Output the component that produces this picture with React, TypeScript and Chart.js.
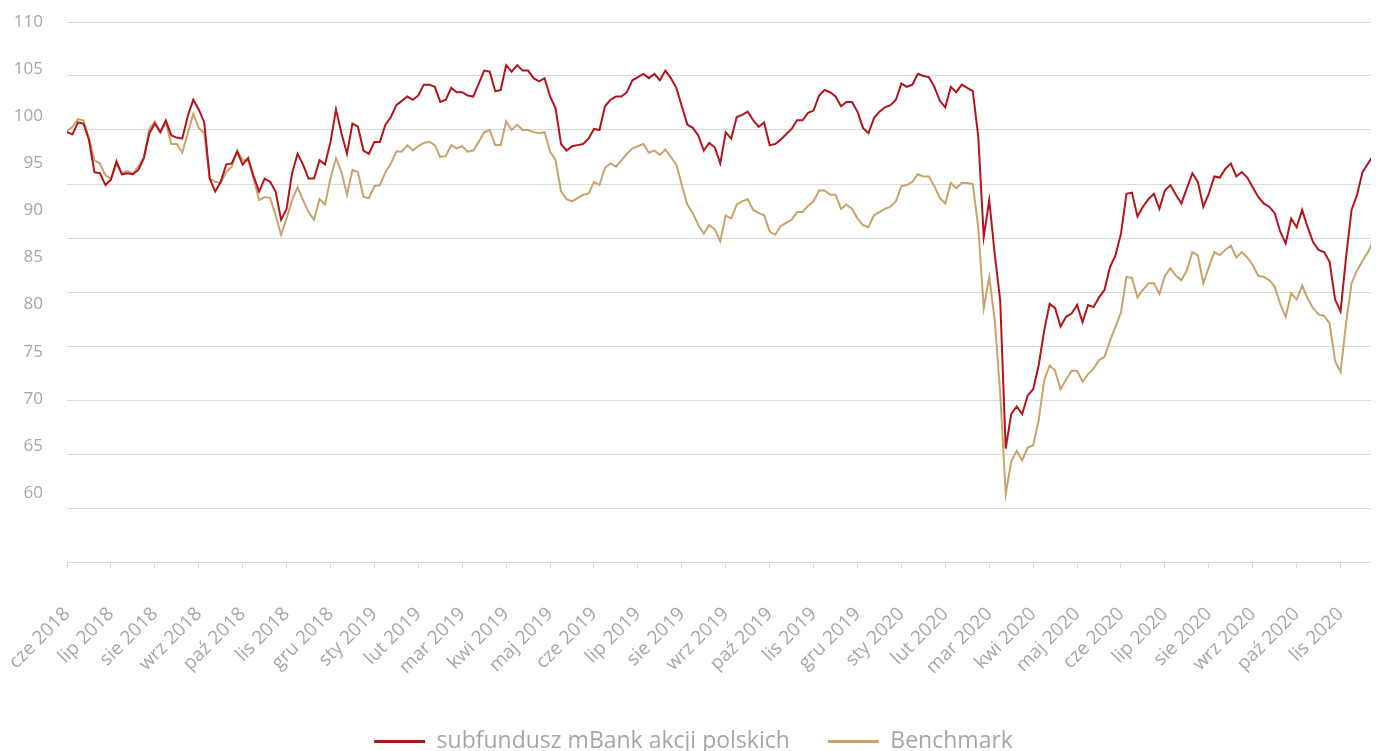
import React, { useEffect, useRef } from 'react';
import { Chart, registerables } from 'chart.js';

Chart.register(...registerables);

const monthLabels = [
  'cze 2018', 'lip 2018', 'sie 2018', 'wrz 2018', 'paź 2018', 'lis 2018', 'gru 2018',
  'sty 2019', 'lut 2019', 'mar 2019', 'kwi 2019', 'maj 2019', 'cze 2019', 'lip 2019',
  'sie 2019', 'wrz 2019', 'paź 2019', 'lis 2019', 'gru 2019',
  'sty 2020', 'lut 2020', 'mar 2020', 'kwi 2020', 'maj 2020', 'cze 2020', 'lip 2020',
  'sie 2020', 'wrz 2020', 'paź 2020', 'lis 2020',
];

const yTickLabels = [60, 65, 70, 75, 80, 85, 90, 95, 100, 105, 110];

// values sampled 8 times per month, starting 1 June 2018
const SAMPLES_PER_MONTH = 8;

const fundValues = [
  99.8, 99.6, 100.7, 100.6, 99.1, 96.1, 96.0, 94.9, 95.4, 97.1,
  95.9, 96.0, 95.9, 96.3, 97.4, 99.7, 100.6, 99.8, 100.9, 99.5,
  99.3, 99.2, 101.3, 102.8, 101.9, 100.7, 95.5, 94.3, 95.2, 96.8,
  96.9, 98.0, 96.8, 97.4, 95.7, 94.3, 95.5, 95.2, 94.3, 91.7,
  92.7, 96.0, 97.8, 96.8, 95.5, 95.5, 97.2, 96.8, 98.9, 101.9,
  99.7, 97.8, 100.6, 100.3, 98.1, 97.8, 98.9, 98.9, 100.5, 101.2,
  102.3, 102.7, 103.1, 102.8, 103.2, 104.2, 104.2, 104.0, 102.6, 102.8,
  103.9, 103.5, 103.5, 103.2, 103.1, 104.3, 105.5, 105.4, 103.6, 103.7,
  106.0, 105.4, 106.0, 105.5, 105.5, 104.8, 104.5, 104.8, 103.1, 102.0,
  98.7, 98.1, 98.5, 98.6, 98.7, 99.2, 100.1, 100.0, 102.2, 102.8,
  103.1, 103.1, 103.5, 104.6, 104.9, 105.2, 104.8, 105.2, 104.6, 105.5,
  104.8, 103.9, 102.2, 100.5, 100.2, 99.5, 98.1, 98.8, 98.4, 96.9,
  99.8, 99.2, 101.2, 101.4, 101.7, 100.9, 100.3, 100.7, 98.6, 98.7,
  99.1, 99.6, 100.1, 100.9, 100.9, 101.6, 101.8, 103.2, 103.7, 103.5,
  103.1, 102.2, 102.6, 102.6, 101.7, 100.2, 99.7, 101.1, 101.7, 102.1,
  102.3, 102.8, 104.3, 104.0, 104.2, 105.2, 105.0, 104.9, 104.0, 102.7,
  102.1, 104.0, 103.5, 104.2, 103.9, 103.6, 99.4, 90.1, 93.5, 88.5,
  84.2, 70.5, 73.7, 74.4, 73.7, 75.4, 76.0, 78.2, 81.4, 83.9,
  83.5, 81.8, 82.7, 83.0, 83.8, 82.2, 83.8, 83.6, 84.5, 85.2,
  87.3, 88.4, 90.4, 94.1, 94.2, 92.0, 92.9, 93.6, 94.1, 92.7,
  94.4, 94.9, 94.0, 93.2, 94.6, 96.0, 95.2, 92.9, 94.1, 95.7,
  95.6, 96.4, 96.9, 95.7, 96.1, 95.6, 94.7, 93.8, 93.2, 92.9,
  92.3, 90.6, 89.5, 91.8, 91.0, 92.6, 91.0, 89.6, 88.9, 88.7,
  87.8, 84.3, 83.2, 88.2, 92.6, 94.0, 96.1, 96.9, 97.7, 98.2,
];

const benchValues = [
  99.9, 100.3, 101.0, 100.9, 99.2, 97.2, 96.9, 95.8, 95.5, 96.8,
  96.0, 96.2, 96.0, 96.6, 97.5, 100.1, 100.8, 99.8, 100.7, 98.7,
  98.7, 97.9, 99.7, 101.5, 100.2, 99.7, 95.5, 95.2, 95.1, 96.1,
  96.6, 98.1, 97.2, 97.2, 95.5, 93.5, 93.8, 93.7, 92.1, 90.3,
  91.8, 93.5, 94.7, 93.5, 92.4, 91.7, 93.6, 93.1, 95.5, 97.4,
  96.1, 94.0, 96.3, 96.1, 93.8, 93.7, 94.8, 94.9, 96.1, 96.9,
  98.0, 98.0, 98.6, 98.1, 98.5, 98.8, 98.9, 98.6, 97.5, 97.6,
  98.6, 98.3, 98.5, 98.0, 98.1, 98.9, 99.8, 100.0, 98.6, 98.6,
  100.8, 100.0, 100.5, 100.0, 100.0, 99.8, 99.7, 99.8, 98.0, 97.2,
  94.3, 93.6, 93.4, 93.7, 94.0, 94.1, 95.2, 94.9, 96.5, 96.9,
  96.6, 97.2, 97.8, 98.3, 98.5, 98.7, 97.9, 98.1, 97.7, 98.2,
  97.5, 96.8, 94.9, 93.1, 92.3, 91.2, 90.4, 91.2, 90.8, 89.7,
  92.1, 91.8, 93.1, 93.4, 93.6, 92.6, 92.3, 92.1, 90.6, 90.3,
  91.1, 91.4, 91.7, 92.4, 92.4, 93.0, 93.4, 94.4, 94.4, 94.0,
  94.0, 92.7, 93.1, 92.7, 91.8, 91.2, 91.0, 92.1, 92.4, 92.7,
  92.9, 93.4, 94.8, 94.9, 95.2, 95.9, 95.7, 95.7, 94.8, 93.7,
  93.2, 95.1, 94.6, 95.1, 95.1, 95.0, 91.0, 83.5, 86.4, 82.4,
  75.6, 66.3, 69.3, 70.3, 69.4, 70.6, 70.8, 73.1, 76.8, 78.2,
  77.7, 76.0, 76.9, 77.7, 77.7, 76.7, 77.4, 77.9, 78.7, 79.0,
  80.5, 81.8, 83.1, 86.4, 86.3, 84.5, 85.2, 85.8, 85.8, 84.8,
  86.5, 87.2, 86.5, 86.1, 87.0, 88.7, 88.4, 85.8, 87.3, 88.7,
  88.4, 88.9, 89.3, 88.2, 88.7, 88.2, 87.5, 86.5, 86.4, 86.1,
  85.5, 83.9, 82.7, 84.9, 84.3, 85.6, 84.4, 83.5, 82.9, 82.8,
  82.1, 78.6, 77.6, 82.1, 85.8, 87.0, 87.9, 88.7, 89.8, 90.0,
];

const seriesNames = ['subfundusz mBank akcji polskich', 'Benchmark'];
const seriesColors = ['#b3141c', '#c9a36c'];

const TEXT_COLOR = '#a6a6a6';
const GRID_COLOR = '#dadada';
const FONT = "'Open Sans', 'DejaVu Sans', sans-serif";

function toPoints(values: number[]) {
  return values.map((v, i) => ({ x: i / SAMPLES_PER_MONTH, y: v }));
}

export default function App() {
  const canvasRef = useRef<HTMLCanvasElement | null>(null);

  useEffect(() => {
    if (!canvasRef.current) return;
    const lastX = (fundValues.length - 1) / SAMPLES_PER_MONTH;
    const chart = new Chart(canvasRef.current, {
      type: 'line',
      data: {
        datasets: [
          {
            label: seriesNames[0],
            data: toPoints(fundValues),
            borderColor: seriesColors[0],
            backgroundColor: seriesColors[0],
            borderWidth: 2,
            pointRadius: 0,
            tension: 0,
            yAxisID: 'y',
          },
          {
            label: seriesNames[1],
            data: toPoints(benchValues),
            borderColor: seriesColors[1],
            backgroundColor: seriesColors[1],
            borderWidth: 2,
            pointRadius: 0,
            tension: 0,
            yAxisID: 'y',
          },
        ],
      },
      options: {
        animation: false,
        responsive: true,
        maintainAspectRatio: false,
        layout: { padding: { top: 14, left: 0, right: 0, bottom: 0 } },
        plugins: {
          tooltip: { enabled: false },
          legend: {
            position: 'bottom',
            labels: {
              boxWidth: 51,
              boxHeight: 3,
              padding: 38,
              color: TEXT_COLOR,
              font: { family: FONT, size: 23 },
              generateLabels: (c: any) =>
                (Chart.defaults.plugins.legend.labels as any)
                  .generateLabels(c)
                  .map((l: any) => ({ ...l, lineWidth: 0 })),
            },
          },
        },
        scales: {
          x: {
            type: 'linear',
            min: 0,
            max: lastX,
            afterBuildTicks: (axis: any) => {
              axis.ticks = monthLabels.map((_, i) => ({ value: i }));
            },
            afterFit: (axis: any) => {
              axis.paddingLeft = 0;
              axis.paddingRight = 0;
              axis.height = 130;
            },
            ticks: {
              autoSkip: false,
              minRotation: 45,
              maxRotation: 45,
              padding: 35,
              color: TEXT_COLOR,
              font: { family: FONT, size: 19 },
              callback: (v: any) => monthLabels[Math.round(Number(v))] ?? '',
            },
            grid: {
              drawOnChartArea: false,
              drawTicks: true,
              tickLength: 6,
              color: GRID_COLOR,
            },
            border: { display: true, color: GRID_COLOR },
          },
          y: {
            position: 'left',
            min: 60,
            max: 110,
            ticks: { display: false, stepSize: 5 },
            grid: { color: GRID_COLOR, drawTicks: false, lineWidth: 1 },
            border: { display: false },
            afterFit: (axis: any) => {
              axis.width = 0;
              axis.paddingTop = 0;
              axis.paddingBottom = 0;
            },
          },
          yLabels: {
            position: 'left',
            min: 52.68,
            max: 110,
            afterBuildTicks: (axis: any) => {
              axis.ticks = yTickLabels.map((v) => ({ value: v }));
            },
            afterFit: (axis: any) => {
              axis.width = 59;
              axis.paddingTop = 0;
              axis.paddingBottom = 0;
            },
            ticks: {
              padding: 24,
              color: TEXT_COLOR,
              font: { family: FONT, size: 17 },
            },
            grid: { display: false, drawTicks: false },
            border: { display: false },
          },
        },
      } as any,
    });
    return () => chart.destroy();
  }, []);

  return (
    <>
      <style>{'html{overflow:hidden}'}</style>
      <div style={{ position: 'relative', width: 1371, height: 755 }}>
        <canvas ref={canvasRef} />
      </div>
    </>
  );
}
